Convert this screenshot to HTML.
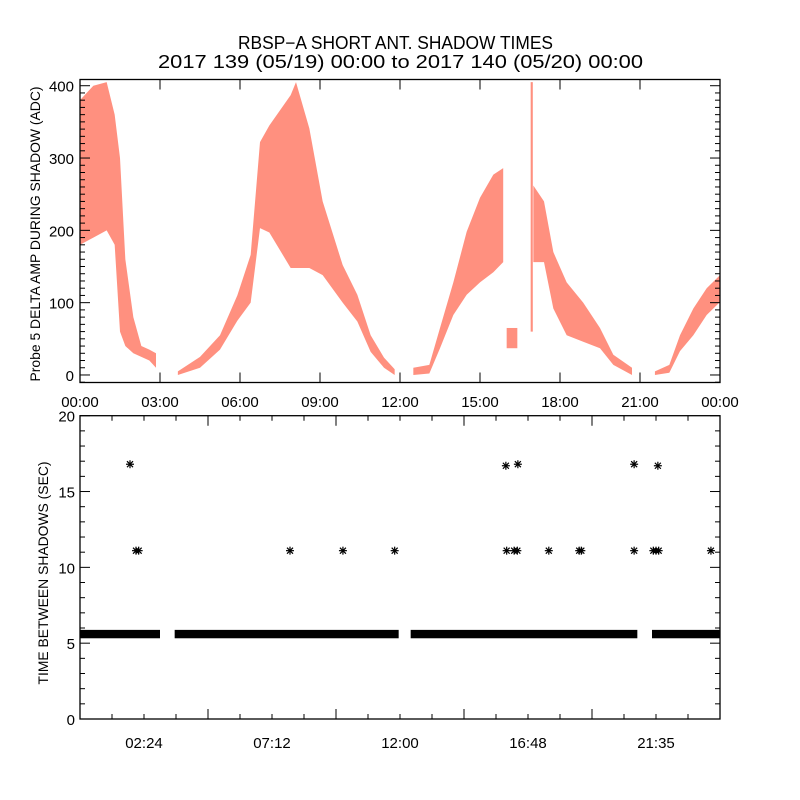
<!DOCTYPE html>
<html><head><meta charset="utf-8"><style>
html,body{margin:0;padding:0;background:#fff;}
svg{display:block;font-family:"Liberation Sans","DejaVu Sans",sans-serif;}
</style></head><body>
<svg id="chart" width="800" height="800" viewBox="0 0 800 800">
<text x="238" y="49" textLength="315" lengthAdjust="spacingAndGlyphs" font-size="18">RBSP−A SHORT ANT. SHADOW TIMES</text>
<text x="158" y="68" textLength="485" lengthAdjust="spacingAndGlyphs" font-size="18">2017 139 (05/19) 00:00 to 2017 140 (05/20) 00:00</text>
<text transform="translate(40,234) rotate(-90)" text-anchor="middle" font-size="14" textLength="295" lengthAdjust="spacingAndGlyphs">Probe 5 DELTA AMP DURING SHADOW (ADC)</text>
<text transform="translate(48,573) rotate(-90)" text-anchor="middle" font-size="14" textLength="223" lengthAdjust="spacingAndGlyphs">TIME BETWEEN SHADOWS (SEC)</text>
<g id="topPanel"></g><g id="botPanel"></g>
</svg>
<script>
// ---- top panel data: envelope bands [hour, low, high] ----
const band1 = [[0,180,380],[0.5,190,400],[1.0,200,405],[1.3,180,360],[1.5,60,300],[1.7,40,160],[2.0,30,80],[2.3,25,40],[2.6,20,35],[2.85,10,30]];
const band2 = [[3.67,0,5],[4.5,10,25],[5.25,35,55],[5.9,75,110],[6.4,100,166],[6.75,203,322],[7.1,197,345],[7.9,148,387],[8.1,148,405],[8.6,148,341],[9.1,138,240],[9.85,100,152],[10.4,74,111],[10.9,32,55],[11.4,10,24],[11.8,0,8]];
const band3 = [[12.5,0,10],[13.1,2,14],[13.5,37,65],[14.0,83,128],[14.5,111,198],[15.0,128,245],[15.5,142,277],[15.87,156,286]];
const band3b = [[16.0,37,65],[16.4,37,65]];
const spike = [[16.9,60,405],[16.98,60,405]];
const band4 = [[17.0,156,262],[17.4,156,240],[17.75,92,170],[18.25,55,128],[18.87,46,100],[19.5,37,65],[20.0,14,28],[20.7,0,10]];
const band5 = [[21.56,0,5],[22.1,3,14],[22.5,33,55],[23.0,55,92],[23.5,83,120],[24.0,101,138]];
const topBands = [band1,band2,band3,band3b,spike,band4,band5];
const topYTicks = [0,100,200,300,400];
const topXLabels = ["00:00","03:00","06:00","09:00","12:00","15:00","18:00","21:00","00:00"];
// ---- bottom panel data ----
const bandSegments = [[0,3.0],[3.55,11.95],[12.4,20.9],[21.45,24]];
const bandValue = 5.6;
const starHours = [1.875,2.1,2.2,7.875,9.86,11.8,15.97,16.42,20.78,21.67,16.0,16.28,16.4,17.58,18.72,18.8,20.78,21.5,21.6,21.7,23.66];
const starValues = [16.8,11.1,11.1,11.1,11.1,11.1,16.7,16.8,16.8,16.7,11.1,11.1,11.1,11.1,11.1,11.1,11.1,11.1,11.1,11.1,11.1];
const botYTicks = [0,5,10,15,20];
const botXLabels = ["02:24","07:12","12:00","16:48","21:35"];

const NS="http://www.w3.org/2000/svg";
function mk(tag,attrs,parent){const e=document.createElementNS(NS,tag);for(const k in attrs)e.setAttribute(k,attrs[k]);parent.appendChild(e);return e;}
const X0=80,X1=720;
const xs=h=>X0+(h/24)*(X1-X0);
const T0=79.5,T1=382.5,tyMin=-10.4,tyMax=408.6;
const ty=v=>T1-(v-tyMin)/(tyMax-tyMin)*(T1-T0);
const B0=415.7,B1=719;
const by=v=>B1-v/20*(B1-B0);
const topG=document.getElementById('topPanel'), botG=document.getElementById('botPanel');

topBands.forEach((b,i)=>{
  const pts=b.map(p=>xs(p[0])+","+ty(p[2])).concat(b.slice().reverse().map(p=>xs(p[0])+","+ty(p[1]))).join(" ");
  const el=mk('polygon',{points:pts,fill:'#ff2200','fill-opacity':0.5},topG);
  
  
});
function frame(g,y0,y1,name){
  const r=mk('rect',{x:X0,y:y0,width:X1-X0,height:y1-y0,fill:'none',stroke:'#000','stroke-width':1.3},g);
  
  
}
frame(topG,T0,T1,'top-plot-frame');
for(let v=-10;v<=400;v+=10){
  const y=ty(v),L=(v%100===0)?10:5;
  mk('line',{x1:X0,y1:y,x2:X0+L,y2:y,stroke:'#000'},topG);
  mk('line',{x1:X1,y1:y,x2:X1-L,y2:y,stroke:'#000'},topG);
}
topYTicks.forEach(v=>{
  const t=mk('text',{x:74,y:ty(v)+6,'text-anchor':'end','font-size':15},topG);t.textContent=v;
  
  
});
topXLabels.forEach((s,i)=>{
  const x=xs(i*3);
  mk('line',{x1:x,y1:T0,x2:x,y2:T0+10,stroke:'#000'},topG);
  mk('line',{x1:x,y1:T1,x2:x,y2:T1-10,stroke:'#000'},topG);
  const t=mk('text',{x:x,y:407,'text-anchor':'middle','font-size':15},topG);t.textContent=s;
  
  
});

// bottom
bandSegments.forEach(s=>{
  const el=mk('rect',{x:xs(s[0]),y:by(bandValue)-4.2,width:xs(s[1])-xs(s[0]),height:8.4,fill:'#000'},botG);
  
  
});
starHours.forEach((h,i)=>{
  const cx=xs(h),cy=by(starValues[i]);
  const g=mk('g',{stroke:'#000','stroke-width':1.2},botG);
  
  
  mk('line',{x1:cx-4,y1:cy,x2:cx+4,y2:cy},g);
  mk('line',{x1:cx,y1:cy-4,x2:cx,y2:cy+4},g);
  mk('line',{x1:cx-3,y1:cy-3,x2:cx+3,y2:cy+3},g);
  mk('line',{x1:cx-3,y1:cy+3,x2:cx+3,y2:cy-3},g);
});
frame(botG,B0,B1,'bottom-plot-frame');
for(let v=0;v<=20;v++){
  const y=by(v),L=(v%5===0)?10:5;
  mk('line',{x1:X0,y1:y,x2:X0+L,y2:y,stroke:'#000'},botG);
  mk('line',{x1:X1,y1:y,x2:X1-L,y2:y,stroke:'#000'},botG);
}
botYTicks.forEach(v=>{
  const t=mk('text',{x:75,y:by(v)+6,'text-anchor':'end','font-size':15},botG);t.textContent=v;
  
  
});
for(let k=1;k<20;k++){
  const x=xs(k*1.2),L=(k%4===0)?10:5;
  mk('line',{x1:x,y1:B0,x2:x,y2:B0+L,stroke:'#000'},botG);
  mk('line',{x1:x,y1:B1,x2:x,y2:B1-L,stroke:'#000'},botG);
}
botXLabels.forEach((s,i)=>{
  const t=mk('text',{x:xs((i*4+2)*1.2),y:748,'text-anchor':'middle','font-size':15},botG);t.textContent=s;
  
  
});
</script>
</body></html>
